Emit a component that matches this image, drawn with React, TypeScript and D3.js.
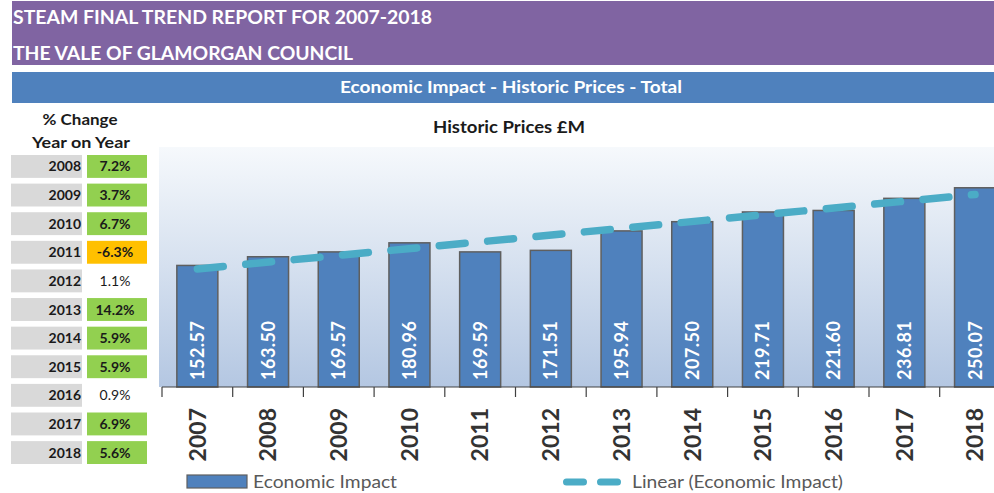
import React, { useEffect, useRef } from "react";
import * as d3 from "d3";

const years = ["2007", "2008", "2009", "2010", "2011", "2012", "2013", "2014", "2015", "2016", "2017", "2018"];
const impact = [152.57, 163.5, 169.57, 180.96, 169.59, 171.51, 195.94, 207.5, 219.71, 221.6, 236.81, 250.07];
const changeYears = ["2008", "2009", "2010", "2011", "2012", "2013", "2014", "2015", "2016", "2017", "2018"];
const changes = [7.2, 3.7, 6.7, -6.3, 1.1, 14.2, 5.9, 5.9, 0.9, 6.9, 5.6];

const FONT = "Lato, 'Open Sans', sans-serif";

export default function App() {
  const ref = useRef<SVGSVGElement>(null);

  useEffect(() => {
    document.body.style.margin = "0";
    const svg = d3.select(ref.current);
    svg.selectAll("*").remove();

    const width = 994;
    const height = 493;
    svg.attr("width", width).attr("height", height).style("font-family", FONT);

    // header bands
    svg.append("rect").attr("x", 12).attr("y", 1).attr("width", width).attr("height", 64).attr("fill", "#8064A2");
    svg.append("text").attr("x", 13).attr("y", 24).attr("fill", "white").attr("font-weight", "bold")
      .attr("font-size", "19px").attr("textLength", 419).attr("lengthAdjust", "spacingAndGlyphs")
      .text("STEAM FINAL TREND REPORT FOR 2007-2018");
    svg.append("text").attr("x", 13).attr("y", 60).attr("fill", "white").attr("font-weight", "bold")
      .attr("font-size", "19px").attr("textLength", 340).attr("lengthAdjust", "spacingAndGlyphs")
      .text("THE VALE OF GLAMORGAN COUNCIL");

    svg.append("rect").attr("x", 12).attr("y", 72).attr("width", width).attr("height", 31).attr("fill", "#4F81BD");
    svg.append("text").attr("x", 511).attr("y", 93).attr("text-anchor", "middle").attr("fill", "white")
      .attr("font-weight", "bold").attr("font-size", "17px").attr("textLength", 342).attr("lengthAdjust", "spacingAndGlyphs")
      .text("Economic Impact - Historic Prices - Total");

    // % change table
    svg.append("text").attr("x", 80).attr("y", 125).attr("text-anchor", "middle").attr("fill", "#1a1a1a")
      .attr("font-weight", "bold").attr("font-size", "15px").attr("textLength", 75).attr("lengthAdjust", "spacingAndGlyphs")
      .text("% Change");
    svg.append("text").attr("x", 81).attr("y", 148).attr("text-anchor", "middle").attr("fill", "#1a1a1a")
      .attr("font-weight", "bold").attr("font-size", "15px").attr("textLength", 98).attr("lengthAdjust", "spacingAndGlyphs")
      .text("Year on Year");

    const rows = d3.scaleBand().domain(changeYears).range([155, 464]).paddingInner(0.2).paddingOuter(0);
    const cellFill = (v: number) => (v < 0 ? "#FFC000" : v >= 2 ? "#92D050" : "none");

    const row = svg.append("g").selectAll("g").data(changeYears).join("g")
      .attr("transform", (d) => `translate(0,${rows(d)})`);
    row.append("rect").attr("x", 11).attr("width", 71).attr("height", rows.bandwidth()).attr("fill", "#D9D9D9");
    row.append("rect").attr("x", 87).attr("width", 60).attr("height", rows.bandwidth())
      .attr("fill", (d, i) => cellFill(changes[i]));
    row.append("text").attr("x", 81).attr("y", rows.bandwidth() / 2).attr("dy", "0.36em")
      .attr("text-anchor", "end").attr("font-weight", "bold").attr("font-size", "14px").attr("fill", "#1a1a1a")
      .text((d) => d);
    row.append("text").attr("x", 115).attr("y", rows.bandwidth() / 2).attr("dy", "0.36em")
      .attr("text-anchor", "middle").attr("font-size", "14px").attr("fill", "#1a1a1a")
      .attr("font-weight", (d, i) => (cellFill(changes[i]) === "none" ? "normal" : "bold"))
      .text((d, i) => `${changes[i].toFixed(1)}%`);

    // chart
    const plotLeft = 159;
    const plotTop = 147;
    const plotBottom = 387;

    const x = d3.scaleBand().domain(years).range([162, 162 + 12 * 70.7]).paddingInner(0.42).paddingOuter(0.21);
    const y = d3.scaleLinear().domain([0, 300]).range([plotBottom, plotTop + 1]);
    const cx = (yr: string) => x(yr)! + x.bandwidth() / 2;

    const defs = svg.append("defs");
    const grad = defs.append("linearGradient").attr("id", "plotBg").attr("x1", 0).attr("x2", 0).attr("y1", 0).attr("y2", 1);
    grad.append("stop").attr("offset", "0%").attr("stop-color", "#F6F9FC");
    grad.append("stop").attr("offset", "100%").attr("stop-color", "#B4C7E2");

    svg.append("rect").attr("x", plotLeft).attr("y", plotTop).attr("width", width - plotLeft)
      .attr("height", plotBottom - plotTop).attr("fill", "url(#plotBg)");

    svg.append("text").attr("x", 509).attr("y", 133).attr("text-anchor", "middle").attr("fill", "#1a1a1a")
      .attr("font-weight", "bold").attr("font-size", "17px").attr("textLength", 152).attr("lengthAdjust", "spacingAndGlyphs")
      .text("Historic Prices £M");

    svg.append("g").selectAll("rect").data(impact).join("rect")
      .attr("x", (d, i) => x(years[i])!)
      .attr("y", (d) => y(d))
      .attr("width", x.bandwidth())
      .attr("height", (d) => y(0) - y(d))
      .attr("fill", "#4F81BD")
      .attr("stroke", "#5f5f5f")
      .attr("stroke-width", 1.5);

    svg.append("g").selectAll("text").data(impact).join("text")
      .attr("transform", (d, i) => `translate(${cx(years[i])},${plotBottom - 7}) rotate(-90)`)
      .attr("dy", "0.36em")
      .attr("fill", "white").attr("font-weight", "bold").attr("font-size", "18px")
      .attr("letter-spacing", "0.5px")
      .text((d) => d.toFixed(2));

    // linear trendline (least squares over category index)
    const n = impact.length;
    const xs = d3.range(1, n + 1);
    const mx = d3.mean(xs)!;
    const my = d3.mean(impact)!;
    const slope = d3.sum(xs, (v, i) => (v - mx) * (impact[i] - my)) / d3.sum(xs, (v) => (v - mx) ** 2);
    const ends: [string, number][] = [
      [years[0], my + slope * (1 - mx)],
      [years[n - 1], my + slope * (n - mx)],
    ];

    svg.append("path")
      .attr("d", d3.line<[string, number]>().x((d) => cx(d[0])).y((d) => y(d[1]))(ends))
      .attr("fill", "none").attr("stroke", "#4BACC6").attr("stroke-width", 7.5)
      .attr("stroke-linecap", "round").attr("stroke-dasharray", "26 22.6");

    // axis
    const axisG = svg.append("g");
    axisG.append("line").attr("x1", 162).attr("x2", width).attr("y1", plotBottom).attr("y2", plotBottom)
      .attr("stroke", "#404040").attr("stroke-width", 1);
    const bounds = years.map((d) => x(d)! - (x.step() - x.bandwidth()) / 2);
    axisG.selectAll("line.tick").data(bounds).join("line").attr("class", "tick")
      .attr("x1", (d) => d).attr("x2", (d) => d).attr("y1", plotBottom).attr("y2", plotBottom + 10)
      .attr("stroke", "#404040").attr("stroke-width", 1.2);

    const xAxis = svg.append("g").attr("transform", `translate(0,${plotBottom})`)
      .call(d3.axisBottom(x).tickSize(0).tickPadding(0));
    xAxis.select(".domain").remove();
    xAxis.selectAll("text")
      .attr("transform", "translate(0,21) rotate(-90)")
      .attr("y", 0).attr("dy", "0.36em")
      .style("text-anchor", "end")
      .attr("font-family", FONT).attr("font-size", "23px").attr("font-weight", "bold").attr("fill", "#333");

    // legend
    svg.append("rect").attr("x", 187).attr("y", 475).attr("width", 60).attr("height", 13)
      .attr("fill", "#4F81BD").attr("stroke", "#5f5f5f").attr("stroke-width", 1.2);
    svg.append("text").attr("x", 253).attr("y", 488).attr("fill", "#595959").attr("font-size", "17px")
      .attr("textLength", 144).attr("lengthAdjust", "spacingAndGlyphs").text("Economic Impact");
    svg.append("line").attr("x1", 566.5).attr("x2", 618.5).attr("y1", 482).attr("y2", 482)
      .attr("stroke", "#4BACC6").attr("stroke-width", 7).attr("stroke-linecap", "round").attr("stroke-dasharray", "17 17");
    svg.append("text").attr("x", 632).attr("y", 488).attr("fill", "#595959").attr("font-size", "17px")
      .attr("textLength", 211).attr("lengthAdjust", "spacingAndGlyphs").text("Linear (Economic Impact)");
  }, []);

  return <svg ref={ref} style={{ display: "block" }}></svg>;
}
